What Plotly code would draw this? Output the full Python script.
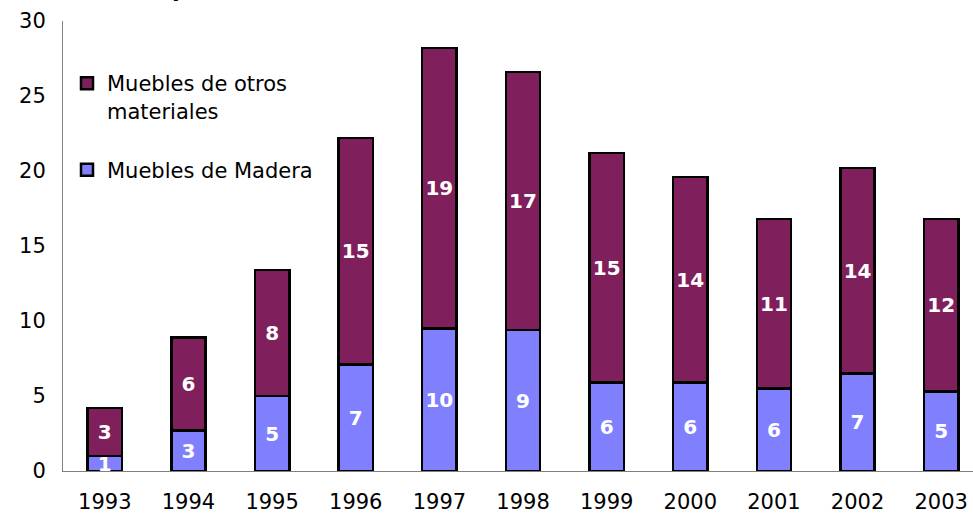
import plotly.graph_objects as go

years = ["1993", "1994", "1995", "1996", "1997", "1998", "1999", "2000", "2001", "2002", "2003"]
madera = [1.0, 2.7, 5.0, 7.1, 9.5, 9.4, 5.9, 5.9, 5.5, 6.5, 5.3]
otros = [3.2, 6.2, 8.4, 15.1, 18.7, 17.2, 15.3, 13.7, 11.3, 13.7, 11.5]
y_ticks = [0, 5, 10, 15, 20, 25, 30]
title_text = "Exportaciones de muebles de Colombia (Millones de US$)"

FONT = "DejaVu Sans"
W, H = 973, 513
ML, MR, MT, MB = 63, 0, 21, 42
PW = W - ML - MR
PH = H - MT - MB

fig = go.Figure()
fig.add_trace(go.Bar(
    x=years, y=madera, name="Muebles de Madera",
    marker=dict(color="#8080FF", line=dict(color="#000000", width=2.5)),
    width=0.41, texttemplate="%{y:.0f}", textposition="inside", textangle=0,
    insidetextanchor="middle", constraintext="none", cliponaxis=False,
    textfont=dict(family=FONT, size=20, color="white", weight="bold"),
    legendgroup="a", legendrank=2,
))
fig.add_trace(go.Bar(
    x=years, y=otros, name="Muebles de otros<br>materiales",
    marker=dict(color="#7F1F5B", line=dict(color="#000000", width=2.5)),
    width=0.41, texttemplate="%{y:.0f}", textposition="inside", textangle=0,
    insidetextanchor="middle", constraintext="none", cliponaxis=False,
    textfont=dict(family=FONT, size=20, color="white", weight="bold"),
    legendgroup="b", legendrank=1,
))

def px_to_paper_x(px):
    return (px - ML) / PW

def px_to_paper_y(py):
    return (H - MB - py) / PH

fig.add_annotation(
    text=title_text, xref="paper", yref="paper",
    x=px_to_paper_x(140), y=px_to_paper_y(-12.0),
    xanchor="left", yanchor="middle", showarrow=False,
    font=dict(family=FONT, size=22.6, color="black", weight="bold"),
)

fig.update_layout(
    width=W, height=H,
    margin=dict(l=ML, r=MR, t=MT, b=MB, pad=0),
    barmode="stack",
    bargap=0.59,
    plot_bgcolor="white", paper_bgcolor="white",
    font=dict(family=FONT, size=21, color="black"),
    showlegend=True,
    legend=dict(
        x=px_to_paper_x(67), y=px_to_paper_y(63), xanchor="left", yanchor="top",
        traceorder="grouped", valign="top", tracegroupgap=29,
        font=dict(family=FONT, size=21, color="black"),
        bgcolor="rgba(0,0,0,0)", borderwidth=0,
    ),
    xaxis=dict(
        range=[-0.5, 10.38], showline=True, linecolor="#808080", linewidth=1,
        ticks="", showgrid=False, zeroline=False, ticklabelstandoff=12,
        tickfont=dict(family=FONT, size=21, color="black"),
    ),
    yaxis=dict(
        range=[0, 30], tickvals=y_ticks, showline=True, linecolor="#808080",
        linewidth=1, ticks="", showgrid=False, zeroline=False, ticklabelstandoff=12,
        tickfont=dict(family=FONT, size=21, color="black"),
    ),
)

fig.write_html("out.html", config={"displayModeBar": False},
               post_script="document.body.style.margin='0';")
